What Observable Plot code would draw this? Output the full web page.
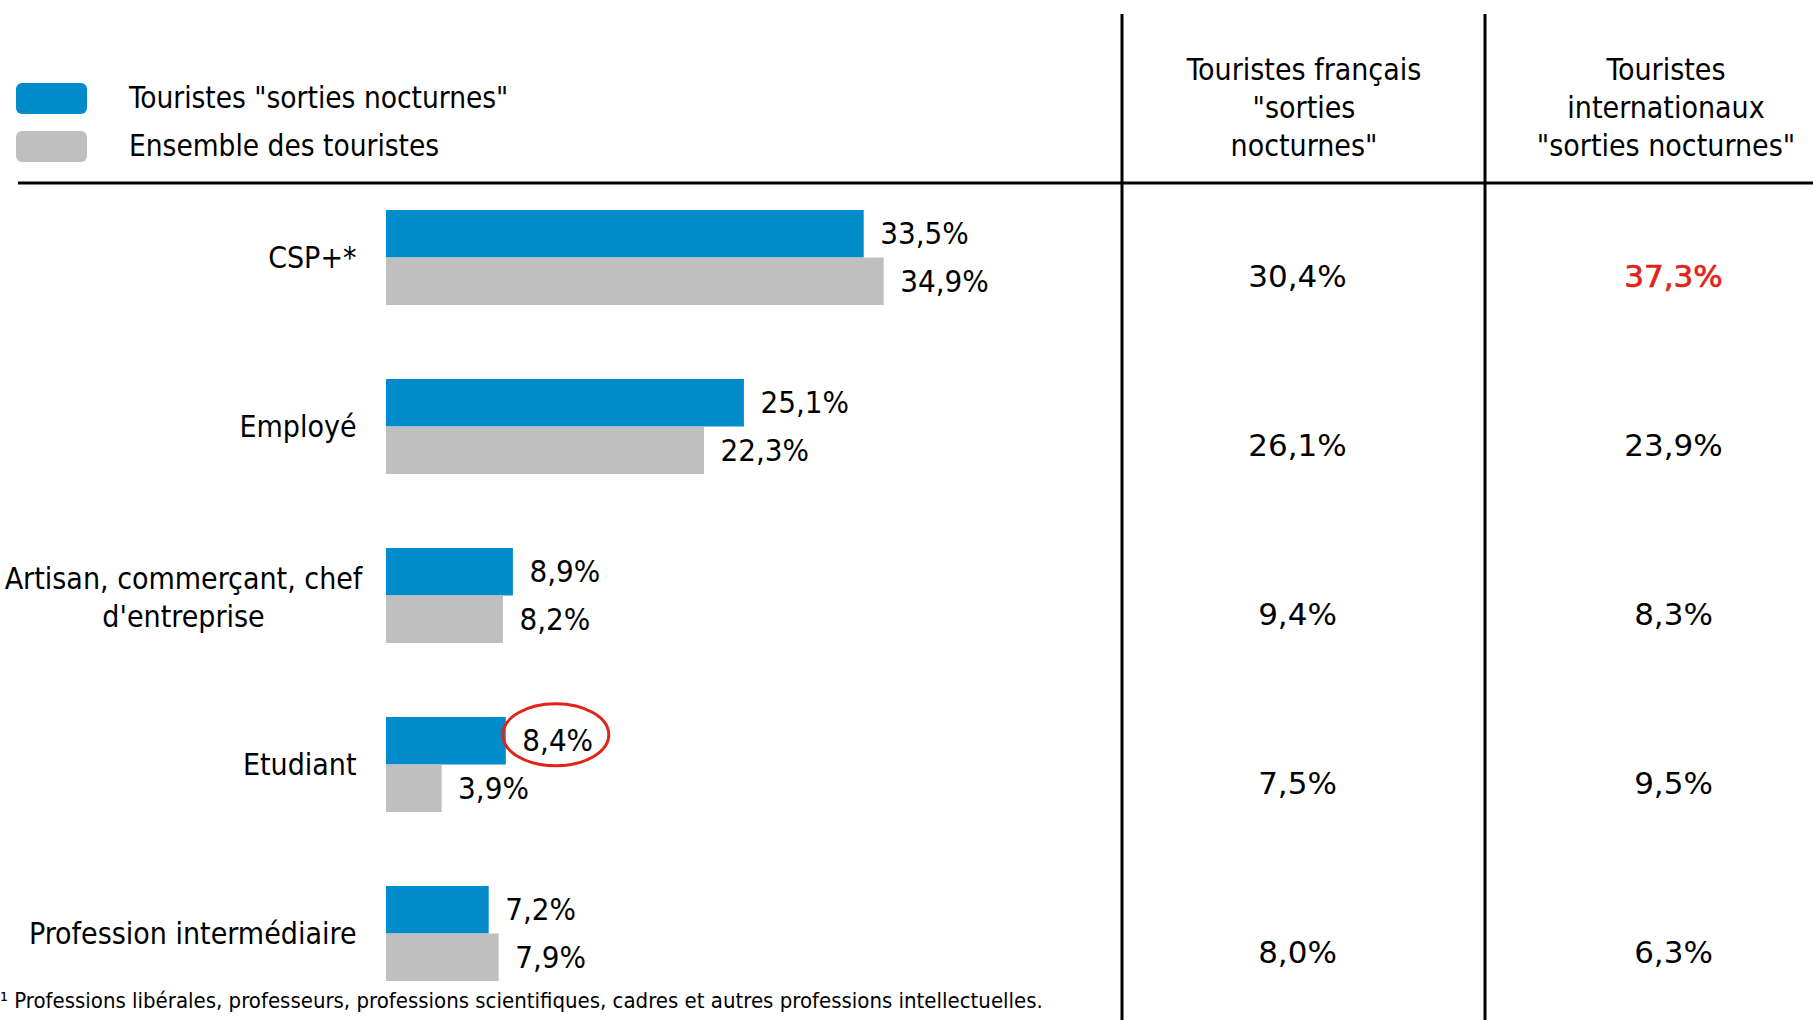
<!DOCTYPE html>
<html><head><meta charset="utf-8">
<script src="https://cdn.jsdelivr.net/npm/d3@7"></script>
<script src="https://cdn.jsdelivr.net/npm/@observablehq/plot@0.6"></script>
<style>
body{margin:0;background:#fff}
#chart{position:relative;width:1813px;height:1020px;overflow:hidden}
</style>
</head><body><div id="chart"></div>
<script>
// ---- data ----
const categories = ["CSP+*", "Employé", "Artisan, commerçant, chef\nd'entreprise", "Etudiant", "Profession intermédiaire"];
const nocturnes = [33.5, 25.1, 8.9, 8.4, 7.2];
const ensemble = [34.9, 22.3, 8.2, 3.9, 7.9];
const francais = [30.4, 26.1, 9.4, 7.5, 8.0];
const internationaux = [37.3, 23.9, 8.3, 9.5, 6.3];
const seriesNames = ['Touristes "sorties nocturnes"', "Ensemble des touristes"];
const columnHeaders = [['Touristes français', '"sorties', 'nocturnes"'], ['Touristes', 'internationaux', '"sorties nocturnes"']];
const footnote = "¹ Professions libérales, professeurs, professions scientifiques, cadres et autres professions intellectuelles.";
const highlightIntl = "CSP+*";
const circledCategory = "Etudiant";

// ---- styles ----
const BLUE = "#008bca", GRAY = "#bfbfbf", RED = "#e2231a";
const NARROW = "'Liberation Sans Narrow', 'DejaVu Sans Condensed', 'Roboto Condensed', sans-serif";
const WIDE = "'DejaVu Sans', Verdana, sans-serif";
const W = 1813, H = 1020;

const fmt = v => v.toFixed(1).replace(".", ",") + "%";
const rows = categories.map((c, i) => ({cat: c, noct: nocturnes[i], ens: ensemble[i], fr: francais[i], intl: internationaux[i]}));
const oneLine = rows.filter(d => !d.cat.includes("\n"));
const multiLine = rows.filter(d => d.cat.includes("\n"));

const half = 47.5;
const plot = Plot.plot({
  width: W, height: H, margin: 0,
  x: {domain: [0, 40], range: [386, 386 + 40 * 14.26], axis: null},
  y: {domain: categories, range: [172.4, 1018.6], paddingInner: 0.4387, paddingOuter: 0.2194, axis: null},
  style: {fontFamily: NARROW, fontSize: "31px", background: "white", color: "black", overflow: "visible"},
  marks: [
    Plot.barX(rows, {x: "noct", y: "cat", fill: BLUE, insetBottom: half}),
    Plot.barX(rows, {x: "ens", y: "cat", fill: GRAY, insetTop: half}),
    Plot.text(rows, {x: "noct", y: "cat", text: d => fmt(d.noct), dx: 16, dy: -half / 2, textAnchor: "start", fill: "black"}),
    Plot.text(rows, {x: "ens", y: "cat", text: d => fmt(d.ens), dx: 16, dy: half / 2, textAnchor: "start", fill: "black"}),
    Plot.text(oneLine, {x: d => 0, y: "cat", text: "cat", dx: -30, textAnchor: "end", fill: "black", fontSize: 30}),
    Plot.text(multiLine, {x: d => 0, y: "cat", text: "cat", dx: -203, textAnchor: "middle", lineHeight: 1.25, fill: "black", fontSize: 30}),
    Plot.text(rows, {y: "cat", frameAnchor: "left", dx: 1297, dy: 19, textAnchor: "middle", text: d => fmt(d.fr), fontFamily: WIDE, fontSize: 31, fill: "black"}),
    Plot.text(rows, {y: "cat", frameAnchor: "left", dx: 1673, dy: 19, textAnchor: "middle", text: d => fmt(d.intl), fontFamily: WIDE, fontSize: 31,
      fill: d => d.cat === highlightIntl ? RED : "black", stroke: d => d.cat === highlightIntl ? RED : "none", strokeWidth: 0.7})
  ]
});
document.getElementById("chart").appendChild(plot);

// ---- decorations ----
const svg = d3.select(plot);
const g = svg.append("g").attr("text-anchor", "start");
// rules
g.append("line").attr("x1", 18).attr("x2", W).attr("y1", 183).attr("y2", 183).attr("stroke", "black").attr("stroke-width", 3);
[1122, 1485].forEach(xx => g.append("line").attr("x1", xx).attr("x2", xx).attr("y1", 14).attr("y2", H).attr("stroke", "black").attr("stroke-width", 3));
// legend
[BLUE, GRAY].forEach((c, i) => {
  g.append("rect").attr("x", 16).attr("y", 83 + i * 48).attr("width", 71).attr("height", 31).attr("rx", 6).attr("fill", c);
  g.append("text").attr("x", 129).attr("y", 98 + i * 48).attr("dy", "0.35em").attr("text-anchor", "start")
    .attr("font-family", NARROW).attr("font-size", 29.5).text(seriesNames[i]);
});
// headers
[1304, 1666].forEach((cx, i) => {
  columnHeaders[i].forEach((line, j) => {
    g.append("text").attr("x", cx).attr("y", 69 + j * 38).attr("dy", "0.35em").attr("text-anchor", "middle")
      .attr("font-family", NARROW).attr("font-size", 30).text(line);
  });
});
// footnote
g.append("text").attr("x", 0).attr("y", 1000).attr("dy", "0.35em").attr("text-anchor", "start")
  .attr("font-family", NARROW).attr("font-size", 22).text(footnote);
// circle around highlighted label
const xs = plot.scale("x"), ys = plot.scale("y");
const ci = categories.indexOf(circledCategory);
const ex = xs.apply(nocturnes[ci]) + 50;
const ey = ys.apply(circledCategory) + ys.bandwidth / 2 - half / 2 - 6;
g.append("ellipse").attr("cx", ex).attr("cy", ey).attr("rx", 53).attr("ry", 31).attr("fill", "none").attr("stroke", RED).attr("stroke-width", 3);
</script>
</body></html>
